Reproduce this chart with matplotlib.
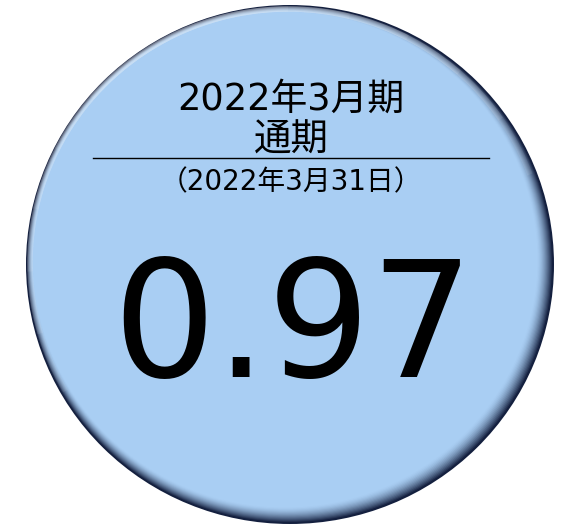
import numpy as np
import matplotlib.pyplot as plt
from matplotlib.patches import Ellipse, Arc
from matplotlib.colors import to_rgb

period_label = "2022年3月期"
scope_label = "通期"
date_label = "（2022年3月31日）"
value = 0.97

fonts = ["DejaVu Sans", "Noto Sans CJK JP"]

W, H = 567, 526
fig = plt.figure(figsize=(W / 100, H / 100), dpi=100)
ax = fig.add_axes([0, 0, 1, 1])
ax.set_xlim(0, W)
ax.set_ylim(H, 0)
ax.axis("off")

cx, cy = 290, 264.5
rx, ry = 264, 259.5
base = np.array(to_rgb("#A9CEF3"))
dark = np.array(to_rgb("#14203F"))

# outer rim
ax.add_patch(Ellipse((cx, cy), 2 * rx, 2 * ry, facecolor=dark, edgecolor="none"))

# bevel: shrink toward upper left so the lower right band is darker and wider
steps = 14
for i in range(1, steps + 1):
    t = i / steps
    col = dark * (1 - t) ** 1.6 + base * (1 - (1 - t) ** 1.6)
    shrink = 1.0 + i * 0.75
    off = i * 0.35
    ax.add_patch(Ellipse((cx - off, cy - off), 2 * (rx - shrink), 2 * (ry - shrink),
                         facecolor=col, edgecolor="none"))

# soft highlight along the upper rim: nested arcs so it fades toward the ends
for k in range(6):
    ax.add_patch(Arc((cx - 2, cy - 2), 2 * (rx - 6), 2 * (ry - 6),
                     theta1=150 + k * 14, theta2=340 - k * 14,
                     color="white", lw=4, alpha=0.08))

ax.text(291, 110, period_label, ha="center", va="baseline", fontsize=26.5, family=fonts)
ax.text(291, 151, scope_label, ha="center", va="baseline", fontsize=27, family=fonts)
ax.plot([93, 489], [158, 158], color="black", lw=1)
ax.text(291, 190, date_label, ha="center", va="baseline", fontsize=20, family=fonts)
ax.text(293, 377, f"{value:.2f}", ha="center", va="baseline", fontsize=117, family=fonts)

fig.savefig("out.png", dpi=100)
